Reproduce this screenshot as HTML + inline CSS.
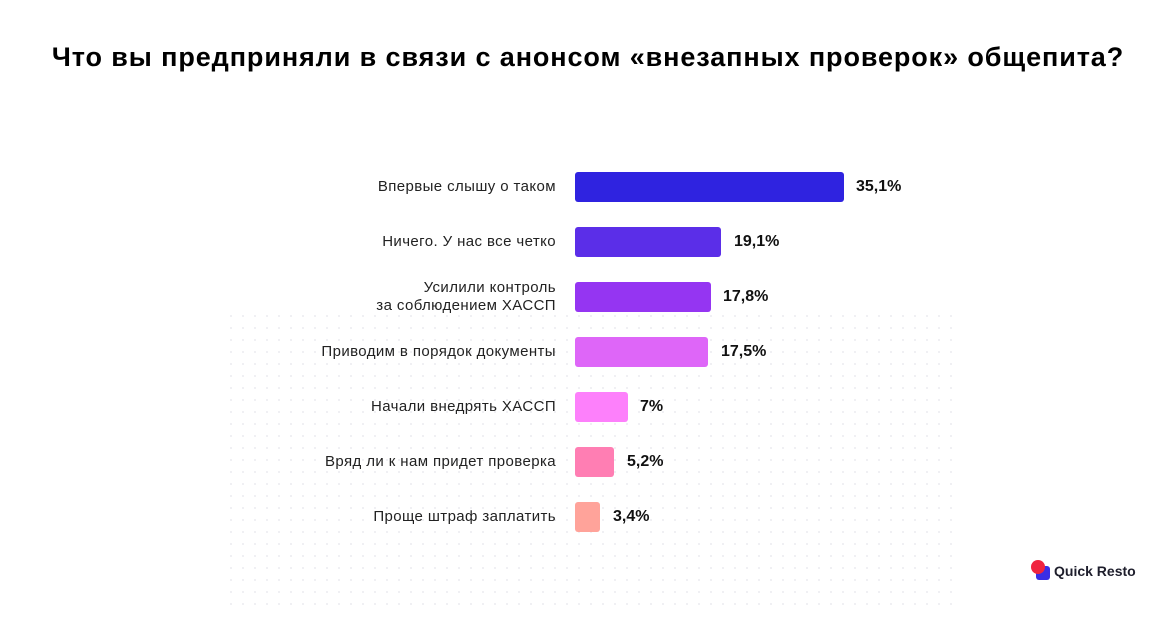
<!DOCTYPE html>
<html><head><meta charset="utf-8"><style>
body{margin:0;width:1176px;height:619px;background:#fff;font-family:"Liberation Sans",sans-serif;position:relative;overflow:hidden}
.t{position:absolute;top:42px;left:0;width:1176px;text-align:center;font-weight:bold;font-size:27px;color:#000;letter-spacing:0.9px;white-space:nowrap}
.dots{position:absolute;left:225px;top:310px;width:730px;height:300px;background-image:radial-gradient(circle,#ececf0 0.8px,transparent 1.1px);background-size:12px 12px}
.lab{position:absolute;right:620px;font-size:15px;color:#222;text-align:right;line-height:18px;letter-spacing:0.4px;white-space:nowrap}
.bar{position:absolute;left:575px;height:30px;border-radius:3px}
.v{position:absolute;font-size:16px;font-weight:bold;color:#111}
</style></head><body>
<div class="dots"></div>
<div class="t">Что вы предприняли в связи с анонсом «внезапных проверок» общепита?</div>

<div class="lab" style="top:178px">Впервые слышу о таком</div>
<div class="bar" style="top:172px;width:269px;background:#2f23e0"></div>
<div class="v" style="left:856px;top:178px">35,1%</div>

<div class="lab" style="top:233px">Ничего. У нас все четко</div>
<div class="bar" style="top:227px;width:146px;background:#5b2ee8"></div>
<div class="v" style="left:734px;top:233px">19,1%</div>

<div class="lab" style="top:279px">Усилили контроль<br>за соблюдением ХАССП</div>
<div class="bar" style="top:282px;width:136px;background:#9535f2"></div>
<div class="v" style="left:723px;top:288px">17,8%</div>

<div class="lab" style="top:343px">Приводим в порядок документы</div>
<div class="bar" style="top:337px;width:133px;background:#de66f8"></div>
<div class="v" style="left:721px;top:343px">17,5%</div>

<div class="lab" style="top:398px">Начали внедрять ХАССП</div>
<div class="bar" style="top:392px;width:53px;background:#fd80fb"></div>
<div class="v" style="left:640px;top:398px">7%</div>

<div class="lab" style="top:453px">Вряд ли к нам придет проверка</div>
<div class="bar" style="top:447px;width:39px;background:#ff7eb3"></div>
<div class="v" style="left:627px;top:453px">5,2%</div>

<div class="lab" style="top:508px">Проще штраф заплатить</div>
<div class="bar" style="top:502px;width:25px;background:#ffa39a"></div>
<div class="v" style="left:613px;top:508px">3,4%</div>

<div style="position:absolute;left:1036px;top:566px;width:14px;height:14px;background:#3a2ee6;border-radius:3px"></div>
<div style="position:absolute;left:1031px;top:560px;width:14px;height:14px;background:#f0243f;border-radius:50%"></div>
<div style="position:absolute;left:1054px;top:563px;font-size:14px;font-weight:bold;color:#1e1e2c">Quick Resto</div>
</body></html>
